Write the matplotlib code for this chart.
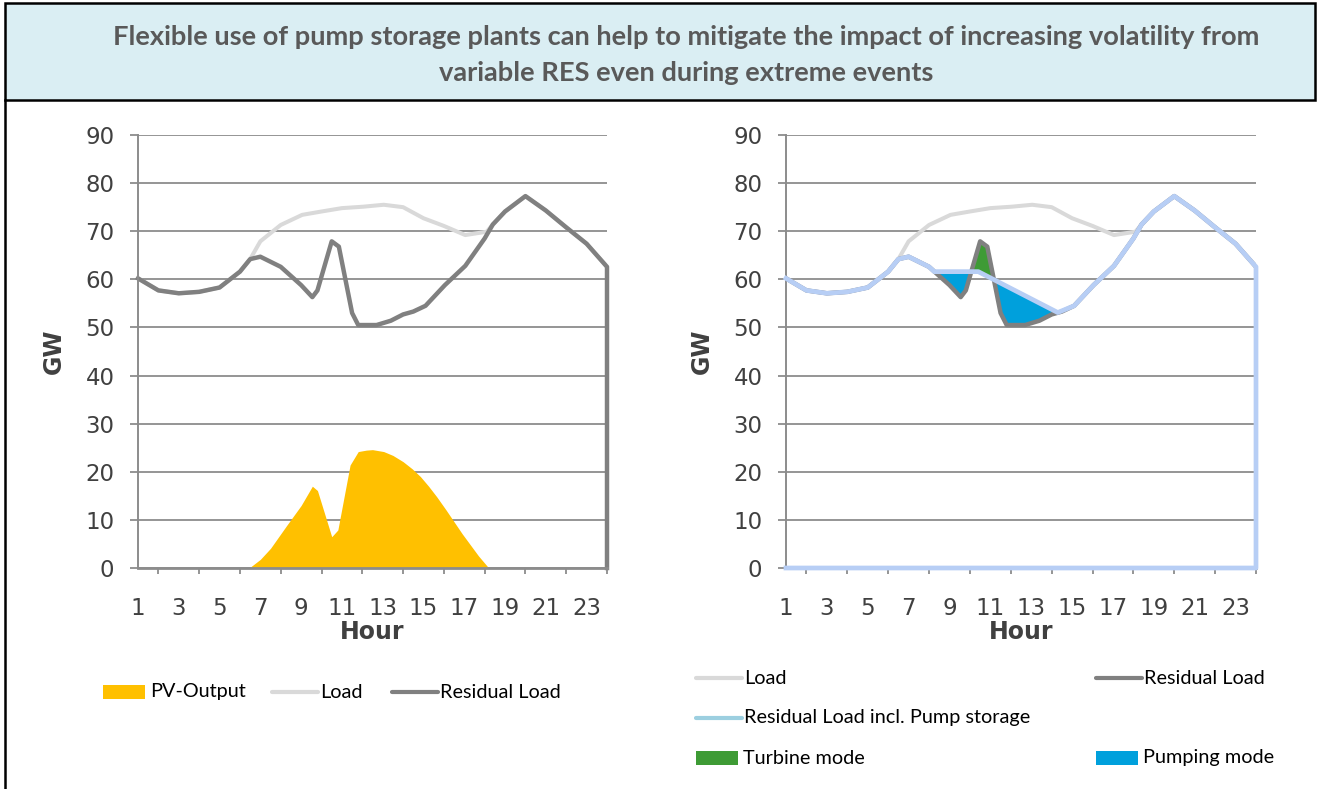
import numpy as np
import matplotlib.pyplot as plt
from matplotlib.lines import Line2D
from matplotlib.patches import Rectangle

W, H = 1318, 789

# hour of day (x) and GW values
res_hours = [1, 2, 3, 4, 5, 6, 6.5, 7, 8, 9, 9.55, 9.8, 10.5, 10.85, 11.5, 11.8,
             12.7, 13.4, 14, 14.5, 15.1, 16.05, 17.05, 18, 18.4, 19, 20, 21, 22, 23, 24]
res_vals = [60.2, 57.7, 57.1, 57.4, 58.3, 61.6, 64.2, 64.7, 62.6, 58.8, 56.3, 57.7, 67.9, 66.8,
            53.0, 50.5, 50.5, 51.4, 52.7, 53.3, 54.5, 58.8, 62.8, 68.5, 71.4, 74.1, 77.3,
            74.3, 70.8, 67.4, 62.6]

load_hours = [1, 2, 3, 4, 5, 6, 6.5, 7, 8, 9.05, 10, 11, 12.05, 13.05, 14, 15, 16, 17.05,
              18.1, 18.4, 19, 20, 21, 22, 23, 24]
load_vals = [60.2, 57.7, 57.1, 57.4, 58.3, 61.6, 64.2, 67.9, 71.3, 73.4, 74.1, 74.8, 75.1,
             75.5, 75.0, 72.7, 71.1, 69.2, 69.9, 71.4, 74.1, 77.3, 74.3, 70.8, 67.4, 62.6]

pv_hours = [1, 6.45, 7.0, 7.5, 8.3, 9.0, 9.55, 9.8, 10.5, 10.8, 11.4, 11.8, 12.2, 12.5, 13.05,
            13.5, 14.0, 14.45, 14.85, 15.25, 15.65, 16.1, 16.5, 16.9, 17.3, 17.7, 18.2, 24]
pv_vals = [0, 0, 1.8, 4.1, 8.9, 13.0, 17.0, 16.1, 6.5, 7.9, 21.4, 24.2, 24.5, 24.6, 24.2,
           23.4, 22.1, 20.6, 19.0, 17.0, 14.8, 12.1, 9.6, 7.1, 4.8, 2.5, 0, 0]

pump_hours = [1, 2, 3, 4, 5, 6, 6.5, 7, 8, 8.26, 10.41, 14.3, 15.1, 16.05, 17.05, 18, 18.4,
              19, 20, 21, 22, 23, 24]
pump_vals = [60.2, 57.7, 57.1, 57.4, 58.3, 61.6, 64.2, 64.7, 62.6, 61.6, 61.6, 53.1, 54.5,
             58.8, 62.8, 68.5, 71.4, 74.1, 77.3, 74.3, 70.8, 67.4, 62.6]

tick_hours = list(range(1, 24, 2))
tick_labels = [str(h) for h in tick_hours]
minor_hours = list(range(2, 25, 2))
y_ticks = list(range(0, 91, 10))

title_lines = ["Flexible use of pump storage plants can help to mitigate the impact "
               "of increasing volatility from",
               "variable RES even during extreme events"]

c_pv = "#FFC000"
c_load = "#D9D9D9"
c_res = "#808080"
c_pump = "#B7CEF5"
c_pump_leg = "#9CCFE0"
c_turb = "#3E9B35"
c_pumping = "#00A0DC"
c_grid = "#8C8C8C"
c_txt = "#404040"

fig = plt.figure(figsize=(W / 100, H / 100), dpi=100)


def fx(x):
    return x / W


def fy(y):
    return 1 - y / H


# title box and frame
fig.patches.append(Rectangle((fx(5), fy(100)), fx(1315) - fx(5), (100 - 3) / H,
                             transform=fig.transFigure, facecolor="#DAEEF3",
                             edgecolor="black", lw=1.8))
fig.lines.append(Line2D([fx(5), fx(5)], [fy(100), 0], transform=fig.transFigure,
                        color="black", lw=1.8))
for line, ypx in zip(title_lines, [37, 73]):
    fig.text(fx(686), fy(ypx), line, ha="center", va="center", fontsize=19.6,
             fontweight="bold", family="Lato", color="#595959")


def style(ax):
    ax.set_xlim(1, 24)
    ax.set_ylim(0, 90)
    ax.set_yticks(y_ticks)
    ax.set_xticks(tick_hours)
    ax.set_xticklabels(tick_labels)
    ax.set_xticks(minor_hours, minor=True)
    ax.grid(axis="y", color=c_grid, lw=1.3)
    ax.set_axisbelow(True)
    for s in ["top", "right"]:
        ax.spines[s].set_visible(False)
    ax.spines["left"].set_color(c_grid)
    ax.spines["left"].set_linewidth(1.4)
    ax.spines["bottom"].set_color(c_grid)
    ax.spines["bottom"].set_linewidth(2)
    ax.tick_params(axis="y", direction="out", length=6, width=1.3, color=c_grid,
                   labelsize=16.5, labelcolor=c_txt, pad=11)
    ax.tick_params(axis="x", which="major", length=0, labelsize=16.5, labelcolor=c_txt, pad=21)
    ax.tick_params(axis="x", which="minor", direction="out", length=4, width=1.3, color=c_grid)
    ax.set_xlabel("Hour", fontsize=17, fontweight="bold", color=c_txt, labelpad=0)
    ax.set_ylabel("GW", fontsize=17, fontweight="bold", color=c_txt, labelpad=14)


ax1 = fig.add_axes([fx(138), fy(568), (607 - 138) / W, (568 - 135) / H])
ax2 = fig.add_axes([fx(786), fy(568), (1256 - 786) / W, (568 - 135) / H])

# left: PV, load, residual load
ax1.fill_between(pv_hours, pv_vals, color=c_pv, lw=0)
ax1.plot(load_hours, load_vals, color=c_load, lw=2.9, solid_joinstyle="round")
ax1.plot(res_hours + [res_hours[-1]], res_vals + [0], color=c_res, lw=3.2,
         solid_joinstyle="round", clip_on=False)
style(ax1)

# right: load, residual load, pump storage modes, residual incl. pump storage
ax2.plot(load_hours, load_vals, color=c_load, lw=2.9, solid_joinstyle="round")
xs = np.union1d(res_hours, pump_hours)
r = np.interp(xs, res_hours, res_vals)
p = np.interp(xs, pump_hours, pump_vals)
ax2.fill_between(xs, r, p, where=r < p, interpolate=True, color=c_pumping, lw=0)
ax2.fill_between(xs, r, p, where=r > p, interpolate=True, color=c_turb, lw=0)
ax2.plot(res_hours, res_vals, color=c_res, lw=3.2, solid_joinstyle="round")
ax2.plot(pump_hours + [pump_hours[-1], pump_hours[0]], pump_vals + [0, 0], color=c_pump,
         lw=3.4, solid_joinstyle="round", clip_on=False, zorder=3)
style(ax2)


# legends drawn in figure pixels
def leg_line(x, y, color, label):
    fig.lines.append(Line2D([fx(x), fx(x + 46)], [fy(y), fy(y)], transform=fig.transFigure,
                            color=color, lw=3, solid_capstyle="round"))
    fig.text(fx(x + 48), fy(y), label, ha="left", va="center", fontsize=14.3,
             family="Lato", color="black")


def leg_patch(x, y, color, label):
    fig.patches.append(Rectangle((fx(x), fy(y + 7)), 42 / W, 14 / H,
                                 transform=fig.transFigure, facecolor=color, lw=0))
    fig.text(fx(x + 47), fy(y), label, ha="left", va="center", fontsize=14.3,
             family="Lato", color="black")


leg_patch(103, 692, c_pv, "PV-Output")
leg_line(272, 692, c_load, "Load")
leg_line(392, 692, c_res, "Residual Load")

leg_line(696, 678, c_load, "Load")
leg_line(1096, 678, c_res, "Residual Load")
leg_line(696, 718, c_pump_leg, "Residual Load incl. Pump storage")
leg_patch(696, 758, c_turb, "Turbine mode")
leg_patch(1096, 758, c_pumping, "Pumping mode")

fig.savefig("out.png", dpi=100)
